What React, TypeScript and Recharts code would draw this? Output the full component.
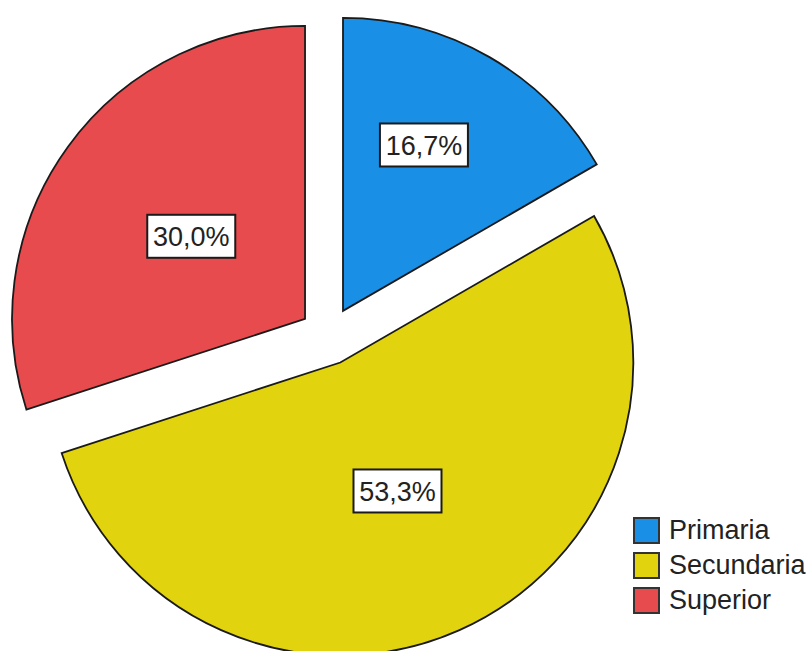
import { PieChart, Pie, Cell, Legend } from "recharts"

const categories = ["Primaria", "Secundaria", "Superior"]
const counts = [5, 16, 9]
const colors = ["#1a8fe6", "#e1d40e", "#e84b4e"]

const data = categories.map((name, i) => ({ name, value: counts[i] }))

const W = 806
const H = 651
const CX = 328.5
const CY = 336
const R = 293
const EXPLODE = 29
const RADIAN = Math.PI / 180
const FONT = "'Liberation Sans', Arial, sans-serif"

const total = counts.reduce((a, b) => a + b, 0)

// offset each slice outward along its middle angle (clockwise from 12 o'clock)
const offsets = counts.map((v, k) => {
  const before = counts.slice(0, k).reduce((a, b) => a + b, 0)
  const mid = ((before + v / 2) / total) * 2 * Math.PI
  return { dx: EXPLODE * Math.sin(mid), dy: -EXPLODE * Math.cos(mid) }
})

const makeLabel = (k: number) => (props: any) => {
  if (props.index !== k) return null
  const { cx, cy, midAngle, outerRadius, percent } = props
  // narrow slices push the box further out and a bit towards the top
  const narrow = percent < 0.2
  const r = outerRadius * (narrow ? 0.63 : 0.48)
  const a = (midAngle + (narrow ? 4 : 0)) * RADIAN
  const x = cx + r * Math.cos(-a)
  const y = cy + r * Math.sin(-a)
  const text = (percent * 100).toFixed(1).replace(".", ",") + "%"
  return (
    <g>
      <rect x={x - 44} y={y - 21.5} width={88} height={43} fill="#fff" stroke="#1a1a1a" strokeWidth={2} />
      <text x={x} y={y + 1} textAnchor="middle" dominantBaseline="central" fontSize={27} fontFamily={FONT} fill="#222">
        {text}
      </text>
    </g>
  )
}

const renderLegend = () => (
  <div style={{ fontFamily: FONT, fontSize: 27, color: "#222" }}>
    {categories.map((c, i) => (
      <div key={c} style={{ display: "flex", alignItems: "center", height: 35 }}>
        <span
          style={{
            display: "inline-block",
            width: 23,
            height: 23,
            background: colors[i],
            border: "2px solid #333",
            marginRight: 9,
          }}
        />
        <span>{c}</span>
      </div>
    ))}
  </div>
)

export default function App() {
  return (
    <div style={{ position: "absolute", left: 0, top: 0, background: "#fff" }}>
      <PieChart width={W} height={H} margin={{ top: 0, right: 0, bottom: 0, left: 0 }}>
        {offsets.map((o, k) => (
          <Pie
            key={categories[k]}
            name={categories[k]}
            data={data}
            dataKey="value"
            nameKey="name"
            cx={CX + o.dx}
            cy={CY + o.dy}
            outerRadius={R}
            startAngle={90}
            endAngle={-270}
            label={makeLabel(k)}
            labelLine={false}
            isAnimationActive={false}
          >
            {data.map((d, i) => (
              <Cell
                key={d.name}
                fill={i === k ? colors[i] : "none"}
                stroke={i === k ? "#1a1a1a" : "none"}
                strokeWidth={1.8}
              />
            ))}
          </Pie>
        ))}
        <Legend
          layout="vertical"
          align="right"
          verticalAlign="bottom"
          content={renderLegend}
          wrapperStyle={{ left: 633, top: 513, right: "auto", bottom: "auto", width: 173 }}
        />
      </PieChart>
    </div>
  )
}
